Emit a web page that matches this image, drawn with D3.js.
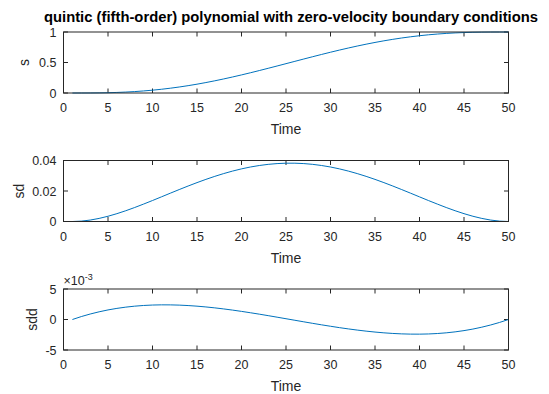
<!DOCTYPE html>
<html>
<head>
<meta charset="utf-8">
<script src="https://d3js.org/d3.v7.min.js"></script>
<style>
  body { margin: 0; background: #fff; }
  text { font-family: "Liberation Sans", Arial, sans-serif; fill: #262626; }
  .tick_text { font-size: 12.5px; }
  .label_text { font-size: 14px; }
  .title_text { font-size: 14.8px; font-weight: bold; fill: #000; }
</style>
</head>
<body>
<svg id="screen" width="549" height="394"></svg>
<script>
const titleText = "quintic (fifth-order) polynomial with zero-velocity boundary conditions";

const time = [1, 2, 3, 4, 5, 6, 7, 8, 9, 10, 11, 12, 13, 14, 15, 16, 17, 18, 19, 20,
  21, 22, 23, 24, 25, 26, 27, 28, 29, 30, 31, 32, 33, 34, 35, 36, 37, 38, 39, 40,
  41, 42, 43, 44, 45, 46, 47, 48, 49, 50];

const s = [0, 0.0000824, 0.000639, 0.002089, 0.004796, 0.009065, 0.01515, 0.02327, 0.03356, 0.04615,
  0.06110, 0.07846, 0.09821, 0.1203, 0.1447, 0.1713, 0.1999, 0.2304, 0.2627, 0.2965,
  0.3316, 0.3679, 0.4050, 0.4428, 0.4809, 0.5191, 0.5572, 0.5950, 0.6321, 0.6684,
  0.7035, 0.7373, 0.7696, 0.8001, 0.8287, 0.8553, 0.8797, 0.9018, 0.9215, 0.9389,
  0.9539, 0.9664, 0.9767, 0.9849, 0.9909, 0.9952, 0.9979, 0.9994, 0.9999, 1];

const sd = [0, 0.000245, 0.000938, 0.002023, 0.003441, 0.005140, 0.007069, 0.009180, 0.01143, 0.01376,
  0.01615, 0.01856, 0.02094, 0.02326, 0.02550, 0.02762, 0.02961, 0.03143, 0.03307, 0.03451,
  0.03573, 0.03672, 0.03747, 0.03798, 0.03823, 0.03823, 0.03798, 0.03747, 0.03672, 0.03573,
  0.03451, 0.03307, 0.03143, 0.02961, 0.02762, 0.02550, 0.02326, 0.02094, 0.01856, 0.01615,
  0.01376, 0.01143, 0.009180, 0.007069, 0.005140, 0.003441, 0.002023, 0.000938, 0.000245, 0];

const sdd = [0, 0.000479, 0.000898, 0.001260, 0.001568, 0.001823, 0.002028, 0.002186, 0.002299, 0.002371,
  0.002402, 0.002397, 0.002358, 0.002286, 0.002186, 0.002058, 0.001907, 0.001733, 0.001541, 0.001332,
  0.001109, 0.000874, 0.000631, 0.000381, 0.000127, -0.000127, -0.000381, -0.000631, -0.000874, -0.001109,
  -0.001332, -0.001541, -0.001733, -0.001907, -0.002058, -0.002186, -0.002286, -0.002358, -0.002397, -0.002402,
  -0.002371, -0.002299, -0.002186, -0.002028, -0.001823, -0.001568, -0.001260, -0.000898, -0.000479, 0];

const xTicks = [0, 5, 10, 15, 20, 25, 30, 35, 40, 45, 50];
const sTicks = [0, 0.5, 1];
const sdTicks = [0, 0.02, 0.04];
const sddTicks = [-0.005, 0, 0.005];

const panels = [
  { values: s, yDomain: [0, 1], ticks: sTicks, fmt: d => d, label: "s", top: 32, labelX: 24 },
  { values: sd, yDomain: [0, 0.04], ticks: sdTicks, fmt: d => d, label: "sd", top: 160.5, labelX: 19 },
  { values: sdd, yDomain: [-0.005, 0.005], ticks: sddTicks, fmt: d => Math.round(d * 1000), label: "sdd", top: 289, labelX: 32, exponent: true }
];

const left = 63.5, right = 508.5, panelH = 61;
const svg = d3.select("#screen");

const x = d3.scaleLinear().domain([0, 50]).range([left, right]);

svg.append("text")
  .attr("class", "title_text")
  .attr("x", 291).attr("y", 22)
  .attr("text-anchor", "middle")
  .text(titleText);

panels.forEach(p => {
  const y = d3.scaleLinear().domain(p.yDomain).range([p.top + panelH, p.top]);
  const g = svg.append("g");

  // ticks inside on all four sides
  g.selectAll(".xt").data(xTicks).enter().append("path")
    .attr("d", d => `M${x(d)},${p.top + panelH}v-4.5M${x(d)},${p.top}v4.5`)
    .attr("stroke", "#262626").attr("stroke-width", 1);
  g.selectAll(".yt").data(p.ticks).enter().append("path")
    .attr("d", d => `M${left},${y(d)}h4.5M${right},${y(d)}h-4.5`)
    .attr("stroke", "#262626").attr("stroke-width", 1);

  g.append("path")
    .datum(p.values)
    .attr("fill", "none")
    .attr("stroke", "#0072BD")
    .attr("stroke-width", 1)
    .attr("d", d3.line().x((d, i) => x(time[i])).y(d => y(d)));

  g.append("rect")
    .attr("x", left).attr("y", p.top)
    .attr("width", right - left).attr("height", panelH)
    .attr("fill", "none").attr("stroke", "#262626").attr("stroke-width", 1);

  g.selectAll(".xl").data(xTicks).enter().append("text")
    .attr("class", "tick_text")
    .attr("x", d => x(d)).attr("y", p.top + panelH + 19)
    .attr("text-anchor", "middle")
    .text(d => d);

  g.selectAll(".yl").data(p.ticks).enter().append("text")
    .attr("class", "tick_text")
    .attr("x", left - 7).attr("y", d => y(d) + 4.5)
    .attr("text-anchor", "end")
    .text(p.fmt);

  g.append("text")
    .attr("class", "label_text")
    .attr("x", (left + right) / 2).attr("y", p.top + panelH + 41)
    .attr("text-anchor", "middle")
    .text("Time");

  g.append("text")
    .attr("class", "label_text")
    .attr("transform", `translate(${p.labelX},${p.top + panelH / 2}) rotate(-90)`)
    .attr("text-anchor", "middle")
    .attr("dy", "0.35em")
    .text(p.label);

  if (p.exponent) {
    const ex = g.append("text")
      .attr("class", "tick_text")
      .attr("x", left).attr("y", p.top - 4);
    ex.append("tspan").text("\u00d710");
    ex.append("tspan").attr("dy", -5).style("font-size", "9px").text("-3");
  }
});
</script>
</body>
</html>
